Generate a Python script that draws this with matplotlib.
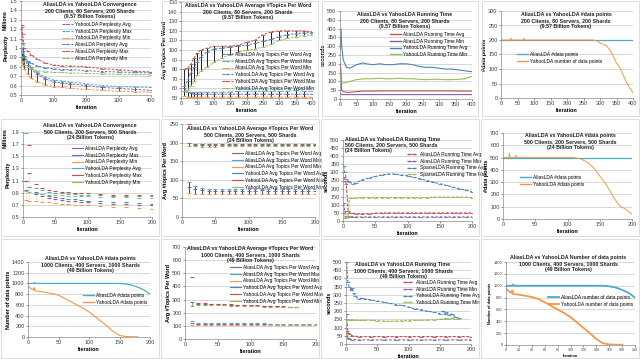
import matplotlib
matplotlib.use("Agg")
import matplotlib.pyplot as plt
from matplotlib.patches import Rectangle

plt.rcParams["font.family"] = ["Liberation Sans", "DejaVu Sans"]

W, H = 640, 359
BLUE, RED, GREEN = "#4F81BD", "#C0504D", "#9BBB59"
PURPLE, AQUA, ORANGE = "#8064A2", "#4BACC6", "#F79646"

# ---------- dados: linha 1 (200 clients, 80 servers, 200 shards) ----------
conv1_it = [2, 5, 10, 20, 30, 50, 75, 100, 125, 150, 200, 250, 300, 350, 400]
conv1_yahoo_avg = [1.22, 1.05, 0.92, 0.82, 0.78, 0.72, 0.67, 0.64, 0.63, 0.62, 0.60, 0.58, 0.57, 0.56, 0.55]
conv1_yahoo_max = [0.95, 1.00, 0.92, 0.85, 0.80, 0.74, 0.69, 0.66, 0.65, 0.64, 0.62, 0.60, 0.59, 0.585, 0.58]
conv1_yahoo_min = [0.85, 0.82, 0.78, 0.72, 0.68, 0.64, 0.61, 0.59, 0.58, 0.57, 0.56, 0.55, 0.54, 0.535, 0.53]
conv1_alias_avg = [1.00, 0.97, 0.92, 0.86, 0.84, 0.81, 0.79, 0.78, 0.77, 0.77, 0.76, 0.75, 0.745, 0.74, 0.735]
conv1_alias_max = [1.25, 1.15, 1.00, 0.97, 0.93, 0.88, 0.84, 0.82, 0.81, 0.81, 0.80, 0.78, 0.77, 0.755, 0.745]
conv1_alias_min = [0.90, 0.86, 0.82, 0.80, 0.78, 0.76, 0.75, 0.74, 0.74, 0.735, 0.73, 0.725, 0.72, 0.72, 0.715]

top1_it = [10, 20, 30, 40, 50, 60, 80, 100, 125, 150, 175, 200, 225, 250, 275, 300, 325, 350, 375, 400]
top1_yahoo_max = [80, 81, 85, 92, 97, 100, 102, 104, 104, 104, 105, 108, 110, 116, 119, 120, 120, 120, 120, 119]
top1_yahoo_avg = [62, 68, 76, 82, 88, 93, 98, 101, 102, 103, 104, 105, 107, 109, 111, 114, 116, 117, 118, 118]
top1_yahoo_min = [57, 58, 62, 68, 74, 78, 82, 87, 92, 95, 98, 100, 101, 103, 106, 110, 112, 114, 115, 116]
top1_alias_max = [57, 56, 56, 56, 56, 56, 56, 56, 56, 56, 57, 57, 57, 57, 57, 57, 57, 58, 57, 57]
top1_alias_avg = [60, 56, 55, 54, 54, 54, 54, 54, 54, 54, 54, 54, 54, 54, 54, 54, 54, 54, 54, 54]
top1_alias_min = [52, 51, 51, 51, 51, 51, 51, 51, 51, 51, 51, 51, 51, 51, 51, 51, 51, 51, 51, 51]

time1_it = [1, 3, 5, 10, 20, 30, 40, 50, 60, 70, 80, 100, 120, 140, 160, 180, 200, 220, 240, 260, 280, 300, 320, 340, 360, 380, 400]
time1_yahoo_avg = [280, 400, 300, 220, 180, 175, 185, 195, 200, 205, 200, 195, 200, 195, 195, 200, 200, 195, 185, 180, 180, 175, 170, 170, 165, 160, 155]
time1_yahoo_min = [100, 100, 95, 90, 95, 100, 105, 110, 112, 115, 115, 115, 118, 115, 115, 118, 115, 115, 112, 110, 112, 112, 110, 110, 112, 115, 130]
time1_alias_avg = [200, 150, 50, 42, 38, 38, 40, 42, 43, 45, 45, 45, 46, 46, 46, 46, 46, 46, 46, 46, 46, 46, 46, 46, 45, 45, 45]
time1_alias_min = [30, 28, 25, 25, 25, 25, 25, 25, 25, 25, 25, 25, 25, 25, 25, 25, 25, 25, 25, 25, 25, 25, 25, 25, 25, 25, 25]

data1_alias_it = [0, 400]
data1_alias = [200, 200]
data1_yahoo_it = [0, 29, 30, 31, 69, 70, 71, 280, 290, 300, 310, 320, 330, 340, 350, 360, 370, 380, 390, 400]
data1_yahoo = [200, 200, 206, 200, 200, 205, 200, 200, 197, 190, 185, 180, 165, 145, 120, 105, 80, 55, 35, 18]

# ---------- dados: linha 2 (500 clients, 200 servers, 500 shards) ----------
conv2_it = [5, 10, 20, 30, 40, 50, 60, 70, 80, 90, 100, 120, 140, 160, 180, 200]
conv2_alias_avg = [0.95, 1.00, 0.88, 0.84, 0.82, 0.80, 0.78, 0.77, 0.76, 0.75, 0.74, 0.73, 0.72, 0.71, 0.70, 0.70]
conv2_alias_max = [1.10, 1.22, 0.92, 0.88, 0.85, 0.83, 0.81, 0.80, 0.79, 0.78, 0.77, 0.76, 0.75, 0.74, 0.73, 0.72]
conv2_alias_min = [0.78, 0.77, 0.76, 0.75, 0.74, 0.73, 0.72, 0.71, 0.70, 0.70, 0.69, 0.68, 0.67, 0.66, 0.65, 0.64]
conv2_yahoo_avg = [1.88, 1.00, 0.98, 0.95, 0.92, 0.90, 0.89, 0.88, 0.88, 0.87, 0.87, 0.86, 0.85, 0.85, 0.84, 0.84]
conv2_yahoo_max = [1.10, 1.68, 1.05, 0.98, 0.95, 0.93, 0.92, 0.91, 0.90, 0.90, 0.89, 0.88, 0.87, 0.86, 0.86, 0.86]
conv2_yahoo_min = [0.93, 0.92, 0.90, 0.88, 0.87, 0.86, 0.86, 0.85, 0.85, 0.84, 0.84, 0.83, 0.83, 0.83, 0.82, 0.82]

top2_it = [10, 20, 30, 40, 50, 60, 70, 80, 90, 100, 110, 120, 130, 140, 150, 160, 170, 180, 190, 200]
top2_alias_avg = [80, 75, 72, 71, 71, 71, 71, 71, 71, 71, 71, 72, 71, 71, 71, 70, 70, 70, 70, 70]
top2_alias_max = [95, 82, 77, 76, 75, 75, 75, 75, 75, 75, 75, 76, 75, 75, 75, 74, 74, 74, 74, 74]
top2_alias_min = [65, 63, 63, 63, 63, 63, 63, 63, 63, 63, 63, 63, 63, 63, 63, 63, 63, 63, 63, 63]
top2_yahoo_avg = [200, 193, 193, 193, 193, 193, 193, 194, 194, 194, 194, 194, 193, 193, 193, 193, 193, 193, 193, 193]
top2_yahoo_max = [250, 196, 196, 196, 196, 196, 196, 197, 197, 197, 197, 197, 196, 196, 196, 196, 196, 196, 196, 196]
top2_yahoo_min = [190, 190, 189, 189, 189, 190, 190, 190, 190, 190, 190, 190, 190, 190, 190, 190, 190, 190, 190, 190]

time2_it = [1, 3, 5, 8, 10, 15, 20, 30, 40, 50, 60, 70, 80, 90, 100, 110, 120, 130, 140, 150, 160, 170, 180, 190, 200]
time2_sparse_avg = [340, 300, 260, 250, 240, 230, 235, 255, 265, 275, 285, 290, 290, 285, 280, 270, 260, 250, 240, 230, 220, 210, 200, 190, 180]
time2_sparse_min = [50, 20, 20, 30, 140, 140, 142, 145, 145, 145, 145, 145, 145, 145, 145, 145, 145, 145, 148, 148, 148, 148, 148, 148, 145]
time2_alias_avg = [270, 250, 230, 60, 50, 48, 45, 45, 45, 48, 50, 50, 50, 50, 50, 50, 50, 50, 50, 50, 50, 50, 50, 50, 50]
time2_alias_min = [110, 60, 30, 28, 27, 26, 25, 25, 25, 25, 25, 25, 25, 25, 25, 25, 25, 25, 25, 25, 25, 25, 25, 25, 25]

data2_alias_it = [0, 200]
data2_alias = [500, 500]
data2_yahoo_it = [0, 9, 10, 11, 19, 20, 21, 110, 120, 130, 140, 150, 160, 170, 180, 190, 200]
data2_yahoo = [500, 500, 535, 500, 500, 520, 500, 500, 490, 465, 420, 350, 280, 190, 110, 80, 40]

# ---------- dados: linha 3 (1000 clients, 400 servers, 1000 shards) ----------
data3_alias_it = [0, 10, 11, 12, 150, 160, 170, 180, 190, 200]
data3_alias = [1000, 1000, 1020, 1000, 1000, 990, 970, 930, 880, 800]
data3_yahoo_it = [0, 5, 9, 10, 11, 20, 30, 40, 50, 60, 70, 80, 90, 100, 110, 120, 130, 140, 150, 160, 170, 180]
data3_yahoo = [950, 900, 880, 920, 860, 850, 830, 810, 780, 720, 660, 600, 540, 470, 380, 290, 200, 100, 30, 10, 5, 5]

top3_it_hi = [10, 20, 30, 40, 50, 60, 70, 80, 90, 100, 110, 120, 130, 140, 150, 160, 170]
top3_yahoo_max = [470, 275, 272, 270, 270, 268, 265, 262, 260, 258, 255, 252, 250, 250, 248, 247, 246]
top3_yahoo_avg = [280, 268, 265, 265, 264, 262, 260, 258, 256, 254, 252, 250, 249, 248, 247, 246, 245]
top3_yahoo_min = [250, 255, 255, 256, 256, 255, 254, 252, 250, 250, 248, 247, 246, 245, 244, 244, 243]
top3_it_lo = [10, 20, 30, 40, 50, 60, 70, 80, 90, 100, 110, 120, 130, 140, 150, 160, 170, 180, 190, 200]
top3_alias_max = [135, 125, 122, 122, 120, 120, 120, 120, 119, 118, 118, 118, 117, 117, 117, 116, 116, 116, 116, 116]
top3_alias_avg = [120, 115, 114, 114, 113, 113, 113, 112, 112, 112, 111, 111, 111, 110, 110, 110, 110, 110, 110, 110]
top3_alias_min = [110, 108, 107, 107, 106, 106, 106, 105, 105, 105, 104, 104, 104, 104, 104, 103, 103, 103, 103, 103]

time3_it = [1, 3, 5, 8, 10, 12, 15, 20, 25, 30, 40, 50, 60, 70, 80, 90, 100, 110, 120, 130, 140, 150, 155, 158, 160, 165, 170, 175, 180]
time3_yahoo_avg = [500, 380, 350, 330, 340, 310, 290, 275, 280, 275, 270, 262, 255, 248, 240, 235, 225, 215, 210, 200, 195, 185, 200, 180, 195, 175, 185, 165, 160]
time3_yahoo_min = [150, 150, 148, 148, 147, 148, 148, 145, 145, 145, 145, 142, 140, 140, 140, 142, 143, 145, 145, 147, 148, 150, 155, 150, 160, 150, 158, 150, 155]
time3_alias_it = [1, 3, 5, 10, 20, 40, 60, 80, 100, 120, 140, 160, 180, 200]
time3_alias_avg = [180, 70, 60, 50, 45, 45, 45, 45, 45, 45, 45, 45, 45, 45]
time3_alias_min = [80, 35, 30, 27, 25, 25, 25, 25, 25, 25, 25, 25, 25, 25]


# ---------- helpers ----------

fig = plt.figure(figsize=(W / 100, H / 100), dpi=100)


def axes_px(x0, y0, x1, y1):
    return fig.add_axes([x0 / W, 1 - y1 / H, (x1 - x0) / W, (y1 - y0) / H])


def style(ax, xlim, xticks, ylim, yticks, ylabel, xsize=4):
    ax.set_xlim(xlim)
    ax.set_xticks(xticks)
    ax.set_ylim(ylim)
    ax.set_yticks(yticks)
    ax.tick_params(labelsize=4, length=1.5, width=0.4, pad=1, colors="#404040")
    ax.tick_params(axis="x", labelsize=xsize)
    for s in ["top", "right"]:
        ax.spines[s].set_visible(False)
    for s in ["left", "bottom"]:
        ax.spines[s].set_color("#8C8C8C")
        ax.spines[s].set_linewidth(0.5)
    ax.grid(axis="y", color="#C8C8C8", lw=0.5)
    ax.set_axisbelow(True)
    ax.set_xlabel("Iteration", fontsize=4, fontweight="bold", labelpad=1)
    ax.set_ylabel(ylabel, fontsize=4, fontweight="bold", labelpad=1)


def title_px(x, y, txt, ha="center", ls=1.25):
    fig.text(x / W, 1 - y / H, txt, ha=ha, va="top", fontsize=3.8,
             fontweight="bold", linespacing=ls, color="#202020")


def legend_px(ax, x, y, lw=0.8):
    leg = ax.legend(loc="upper left", bbox_to_anchor=(x / W, 1 - y / H),
                    bbox_transform=fig.transFigure, fontsize=3.5, frameon=False,
                    handlelength=2.2, handletextpad=0.5, labelspacing=0.35,
                    borderpad=0, borderaxespad=0)
    for h in leg.get_lines():
        h.set_linewidth(lw)
    return leg


def dash(ax, x, y, c, label, lw=0.7):
    ax.plot(x, y, color=c, lw=lw, ls=(0, (2.5, 1.5)), marker="_", ms=2.5,
            mew=0.6, label=label)


def marks(ax, x, y, c, label):
    ax.plot(x, y, color=c, ls="none", marker="_", ms=3, mew=0.8, label=label)


# bordas dos painéis (estilo Excel)
for x0, y0, x1, y1 in [(162, 1, 318, 116), (322, 1, 478, 116), (482, 1, 639, 116),
                       (1, 119, 159, 236), (161, 119, 319, 236), (321, 119, 479, 236),
                       (481, 119, 639, 236), (1, 239, 159, 358), (161, 239, 319, 358),
                       (321, 239, 479, 358), (481, 239, 639, 358)]:
    fig.patches.append(Rectangle((x0 / W, 1 - y1 / H), (x1 - x0) / W, (y1 - y0) / H,
                                 transform=fig.transFigure, fill=False,
                                 ec="#D0D0D0", lw=0.5))

# ---------- A: convergência 200 ----------
ax = axes_px(21, 1, 151, 95)
ax.vlines(conv1_it, conv1_yahoo_min, conv1_yahoo_max, color="black", lw=0.5)
dash(ax, conv1_it, conv1_yahoo_avg, PURPLE, "YahooLDA Perplexity Avg")
dash(ax, conv1_it, conv1_yahoo_max, AQUA, "YahooLDA Perplexity Max")
dash(ax, conv1_it, conv1_yahoo_min, ORANGE, "YahooLDA Perplexity Min")
dash(ax, conv1_it, conv1_alias_avg, BLUE, "AliasLDA Perplexity Avg")
dash(ax, conv1_it, conv1_alias_max, RED, "AliasLDA Perplexity Max")
dash(ax, conv1_it, conv1_alias_min, GREEN, "AliasLDA Perplexity Min")
style(ax, (0, 400), [0, 100, 200, 300, 400], (0.5, 1.5),
      [0.5, 0.6, 0.7, 0.8, 0.9, 1.0, 1.1, 1.2, 1.3, 1.4, 1.5], "Perplexity")
ax.set_yticklabels(["0.5", "0.6", "0.7", "0.8", "0.9", "1", "1.1", "1.2", "1.3", "1.4", "1.5"])
fig.text(3 / W, 1 - 20 / H, "Millions", rotation=90, fontsize=3.8, fontweight="bold", va="center")
title_px(90, 2, "AliasLDA vs YahooLDA Convergence\n200 Clients, 80 Servers, 200 Shards\n(9.57 Billion Tokens)")
legend_px(ax, 62, 22)

# ---------- B: tópicos 200 ----------
ax = axes_px(181, 2, 312, 98)
ax.vlines(top1_it, top1_yahoo_min, top1_yahoo_max, color="black", lw=0.6)
ax.vlines(top1_it, top1_alias_min, top1_alias_max, color="black", lw=0.6)
dash(ax, top1_it, top1_alias_avg, PURPLE, "AliasLDA Avg Topics Per Word Avg")
dash(ax, top1_it, top1_alias_max, AQUA, "AliasLDA Avg Topics Per Word Max")
dash(ax, top1_it, top1_alias_min, ORANGE, "AliasLDA Avg Topics Per Word Min")
dash(ax, top1_it, top1_yahoo_avg, BLUE, "YahooLDA Avg Topics Per Word Avg")
dash(ax, top1_it, top1_yahoo_max, RED, "YahooLDA Avg Topics Per Word Max")
dash(ax, top1_it, top1_yahoo_min, GREEN, "YahooLDA Avg Topics Per Word Min")
style(ax, (0, 400), list(range(0, 401, 50)), (50, 150), list(range(50, 151, 10)),
      "Avg #Topics Per Word")
title_px(248, 3, "AliasLDA vs YahooLDA Average #Topics Per Word\n200 Clients, 80 Servers, 200 Shards\n(9.57 Billion Tokens)")
legend_px(ax, 222, 52)

# ---------- C: tempo 200 ----------
ax = axes_px(340, 11, 472, 99)
ax.plot(time1_it, time1_alias_avg, color=RED, lw=0.8, label="AliasLDA Running Time Avg")
ax.plot(time1_it, time1_alias_min, color=PURPLE, lw=0.8, label="AliasLDA Running Time Min")
ax.plot(time1_it, time1_yahoo_avg, color=BLUE, lw=0.8, label="YahooLDA Running Time Avg")
ax.plot(time1_it, time1_yahoo_min, color=GREEN, lw=0.8, label="YahooLDA Running Time Min")
style(ax, (0, 400), list(range(0, 401, 50)), (0, 500), list(range(0, 501, 50)), "seconds")
title_px(405, 12, "AliasLDA vs YahooLDA Running Time\n200 Clients, 80 Servers, 200 Shards\n(9.57 Billion Tokens)")
legend_px(ax, 390, 32, lw=1.0)

# ---------- D: data points 200 ----------
ax = axes_px(501, 11, 633, 98)
ax.plot(data1_alias_it, data1_alias, color=AQUA, lw=0.9, label="AliasLDA #data points")
ax.plot(data1_yahoo_it, data1_yahoo, color=ORANGE, lw=0.7, label="YahooLDA number of data points")
style(ax, (0, 400), list(range(0, 401, 50)), (0, 300), list(range(0, 301, 50)), "#data points")
title_px(566, 12, "AliasLDA vs YahooLDA #data points\n200 Clients, 80 Servers, 200 Shards\n(9.57 Billion Tokens)")
legend_px(ax, 517, 52, lw=1.0)

# ---------- E: convergência 500 ----------
ax = axes_px(23, 132, 152, 217)
marks(ax, conv2_it, conv2_alias_avg, PURPLE, "AliasLDA Perplexity Avg")
marks(ax, conv2_it, conv2_alias_max, BLUE, "AliasLDA Perplexity Max")
marks(ax, conv2_it, conv2_alias_min, ORANGE, "AliasLDA Perplexity Min")
marks(ax, conv2_it, conv2_yahoo_avg, AQUA, "YahooLDA Perplexity Avg")
marks(ax, conv2_it, conv2_yahoo_max, RED, "YahooLDA Perplexity Max")
marks(ax, conv2_it, conv2_yahoo_min, GREEN, "YahooLDA Perplexity Min")
ax.vlines(conv2_it, conv2_alias_min, conv2_alias_max, color="#A0A0A0", lw=0.4, ls=":")
style(ax, (0, 200), [0, 50, 100, 150, 200], (0.5, 1.9), [0.5, 0.7, 0.9, 1.1, 1.3, 1.5, 1.7, 1.9],
      "Perplexity")
fig.text(3 / W, 1 - 138 / H, "Millions", rotation=90, fontsize=3.8, fontweight="bold", va="center")
title_px(90, 123, "AliasLDA vs YahooLDA Convergence\n500 Clients, 200 Servers, 500 Shards\n(24 Billion Tokens)")
leg = legend_px(ax, 72, 146)
for h in leg.get_lines():
    h.set_linestyle("-")

# ---------- F: tópicos 500 ----------
ax = axes_px(182, 124, 315, 217)
ax.vlines(top2_it, top2_alias_min, top2_alias_max, color="black", lw=0.5)
ax.vlines(top2_it, top2_yahoo_min, top2_yahoo_avg, color="black", lw=0.5)
marks(ax, top2_it, top2_alias_avg, PURPLE, "AliasLDA Avg Topics Per Word Avg")
marks(ax, top2_it, top2_alias_max, AQUA, "AliasLDA Avg Topics Per Word Max")
marks(ax, top2_it, top2_alias_min, ORANGE, "AliasLDA Avg Topics Per Word Min")
marks(ax, top2_it, top2_yahoo_avg, BLUE, "YahooLDA Avg Topics Per Word Avg")
marks(ax, top2_it, top2_yahoo_max, RED, "YahooLDA Avg Topics Per Word Max")
marks(ax, top2_it, top2_yahoo_min, GREEN, "YahooLDA Avg Topics Per Word Min")
style(ax, (0, 200), [0, 50, 100, 150, 200], (0, 250), list(range(0, 251, 50)),
      "Avg #topics Per Word")
title_px(250, 126, "AliasLDA vs YahooLDA Average #Topics Per Word\n500 Clients, 200 Servers, 500 Shards\n(24 Billion Tokens)")
leg = legend_px(ax, 232, 151)
for h in leg.get_lines():
    h.set_linestyle("-")

# ---------- G: tempo 500 ----------
ax = axes_px(343, 140, 472, 221)
dash(ax, time2_it, time2_alias_avg, RED, "AliasLDA Running Time Avg", lw=0.8)
dash(ax, time2_it, time2_alias_min, PURPLE, "AliasLDA Running Time Min", lw=0.8)
dash(ax, time2_it, time2_sparse_avg, BLUE, "SparseLDA Running Time Avg", lw=0.8)
dash(ax, time2_it, time2_sparse_min, GREEN, "SparseLDA Running Time Min", lw=0.8)
style(ax, (0, 200), [0, 50, 100, 150, 200], (0, 500), list(range(0, 501, 50)), "seconds")
title_px(345, 137, "AliasLDA vs YahooLDA Running Time\n500 Clients, 200 Servers, 500 Shards\n(24 Billion Tokens)",
         ha="left", ls=1.1)
legend_px(ax, 407, 152, lw=1.0)

# ---------- H: data points 500 ----------
ax = axes_px(503, 133, 632, 219)
ax.plot(data2_alias_it, data2_alias, color=AQUA, lw=0.9, label="AliasLDA #data points")
ax.plot(data2_yahoo_it, data2_yahoo, color=ORANGE, lw=0.7, label="YahooLDA #data points")
style(ax, (0, 200), [0, 50, 100, 150, 200], (0, 700), list(range(0, 701, 100)), "#data points")
title_px(570, 133, "AliasLDA vs YahooLDA #data points\n500 Clients, 200 Servers, 500 Shards\n(24 Billion Tokens)")
legend_px(ax, 520, 175, lw=1.0)

# ---------- I: data points 1000 ----------
ax = axes_px(28, 262, 150, 337)
ax.plot(data3_alias_it, data3_alias, color=AQUA, lw=0.9, label="AliasLDA #data points")
ax.plot(data3_yahoo_it, data3_yahoo, color=ORANGE, lw=0.8, label="YahooLDA #data points")
style(ax, (0, 200), [0, 50, 100, 150, 200], (0, 1400), list(range(0, 1401, 200)),
      "Number of data points")
title_px(90, 256, "AliasLDA vs YahooLDA #data points\n1000 Clients, 400 Servers, 1000 Shards\n(49 Billion Tokens)")
legend_px(ax, 83, 293, lw=1.0)

# ---------- J: tópicos 1000 ----------
ax = axes_px(185, 247, 316, 339)
marks(ax, top3_it_lo, top3_alias_avg, PURPLE, "AliasLDA Avg Topics Per Word Avg")
marks(ax, top3_it_lo, top3_alias_max, AQUA, "AliasLDA Avg Topics Per Word Max")
marks(ax, top3_it_lo, top3_alias_min, ORANGE, "AliasLDA Avg Topics Per Word Min")
marks(ax, top3_it_hi, top3_yahoo_avg, BLUE, "YahooLDA Avg Topics Per Word Avg")
marks(ax, top3_it_hi, top3_yahoo_max, RED, "YahooLDA Avg Topics Per Word Max")
marks(ax, top3_it_hi, top3_yahoo_min, GREEN, "YahooLDA Avg Topics Per Word Min")
ax.vlines(top3_it_hi, top3_yahoo_min, top3_yahoo_avg, color="#505050", lw=0.4)
style(ax, (0, 200), [0, 50, 100, 150, 200], (0, 700), list(range(0, 701, 100)),
      "Avg #Topics Per Word")
title_px(250, 246, "AliasLDA vs YahooLDA Average #Topics Per Word\n1000 Clients, 400 Servers, 1000 Shards\n(49 Billion Tokens)")
leg = legend_px(ax, 230, 265)
for h in leg.get_lines():
    h.set_linestyle("-")

# ---------- K: tempo 1000 ----------
ax = axes_px(346, 262, 471, 344)
dash(ax, time3_alias_it, time3_alias_avg, RED, "AliasLDA Running Time Avg", lw=0.8)
dash(ax, time3_alias_it, time3_alias_min, PURPLE, "AliasLDA Running Time Min", lw=0.8)
dash(ax, time3_it, time3_yahoo_avg, BLUE, "YahooLDA Running Time Avg", lw=0.8)
dash(ax, time3_it, time3_yahoo_min, GREEN, "YahooLDA Running Time Min", lw=0.8)
style(ax, (0, 200), [0, 50, 100, 150, 200], (0, 500), list(range(0, 501, 50)), "seconds")
title_px(403, 262, "AliasLDA vs YahooLDA Running Time\n1000 Clients, 400 Servers, 1000 Shards\n(49 Billion Tokens)")
legend_px(ax, 403, 280, lw=1.0)

# ---------- L: data points 1000 ----------
ax = axes_px(506, 262, 635, 345)
ax.plot(data3_alias_it, data3_alias, color=AQUA, lw=1.3, label="AliasLDA number of data points")
ax.plot(data3_yahoo_it, data3_yahoo, color=ORANGE, lw=1.3, label="YahooLDA number of data points")
style(ax, (0, 200), list(range(0, 201, 20)), (0, 1400), list(range(0, 1401, 200)),
      "Number of data points", xsize=2.5)
ax.tick_params(axis="y", labelsize=2.8)
ax.xaxis.label.set_size(2.8)
ax.yaxis.label.set_size(2.8)
title_px(568, 255, "AliasLDA vs YahooLDA Number of data points\n1000 Clients, 400 Servers, 1000 Shards\n(49 Billion Tokens)")
legend_px(ax, 548, 295, lw=1.3)

fig.savefig("out.png", dpi=100)
